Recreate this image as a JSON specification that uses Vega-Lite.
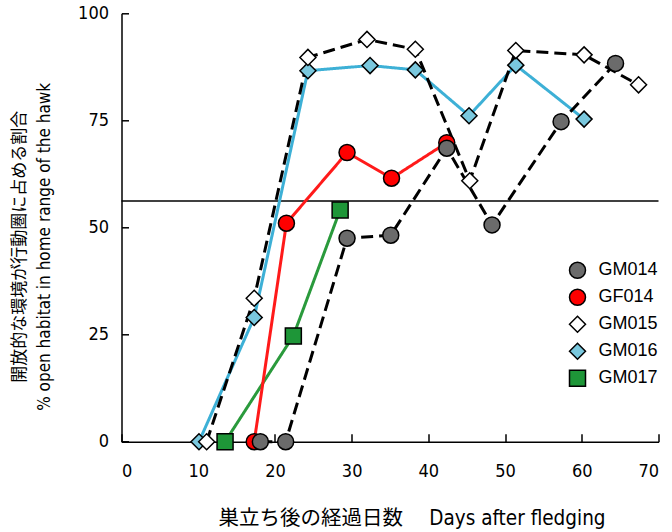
{
  "$schema": "https://vega.github.io/schema/vega-lite/v6.json",
  "autosize": {"type": "none"},
  "padding": {"left": 121.5, "top": 13.3, "right": 13.5, "bottom": 90.3},
  "width": 537,
  "height": 428.4,
  "background": "white",
  "config": {"view": {"stroke": null}, "font": "Liberation Sans"},
  "encoding": {
    "y": {
      "field": "pct",
      "type": "quantitative",
      "scale": {"domain": [0, 100], "nice": false},
      "axis": {
        "title": ["開放的な環境が行動圏に占める割合", "% open habitat in home range of the hawk"],
        "values": [0, 25, 50, 75, 100],
        "grid": false,
        "tickSize": -7,
        "tickColor": "black",
        "tickWidth": 1.5,
        "domainColor": "black",
        "domainWidth": 1.5,
        "labelFont": "DejaVu Sans Condensed",
        "labelFontSize": 18,
        "labelColor": "black",
        "labelPadding": 20,
        "titleFont": "DejaVu Sans Condensed, Noto Sans CJK JP",
        "titleFontSize": 17,
        "titleFontWeight": "normal",
        "titleColor": "black",
        "titleLineHeight": 25,
        "titlePadding": 24,
        "titleY": 233
      }
    }
  },
  "layer": [
    {
      "data": {"values": [{"pct": 56.2}]},
      "mark": {"type": "rule", "color": "black", "strokeWidth": 1.5}
    },
    {
      "data": {
        "values": [
          {"series": "GM017", "day": 13.5, "pct": 0},
          {"series": "GM017", "day": 22.4, "pct": 24.7},
          {"series": "GM017", "day": 28.5, "pct": 54.1},
          {"series": "GF014", "day": 17.3, "pct": 0},
          {"series": "GF014", "day": 21.5, "pct": 51.0},
          {"series": "GF014", "day": 29.4, "pct": 67.5},
          {"series": "GF014", "day": 35.2, "pct": 61.5},
          {"series": "GF014", "day": 42.4, "pct": 69.8},
          {"series": "GM016", "day": 10.1, "pct": 0},
          {"series": "GM016", "day": 17.3, "pct": 29.0},
          {"series": "GM016", "day": 24.3, "pct": 86.6},
          {"series": "GM016", "day": 32.4, "pct": 87.8},
          {"series": "GM016", "day": 38.3, "pct": 86.8},
          {"series": "GM016", "day": 45.3, "pct": 76.1},
          {"series": "GM016", "day": 51.4, "pct": 87.9},
          {"series": "GM016", "day": 60.3, "pct": 75.3},
          {"series": "GM015", "day": 11.1, "pct": 0},
          {"series": "GM015", "day": 17.3, "pct": 33.5},
          {"series": "GM015", "day": 24.3, "pct": 89.7},
          {"series": "GM015", "day": 32.0, "pct": 93.9},
          {"series": "GM015", "day": 38.3, "pct": 91.6},
          {"series": "GM015", "day": 45.4, "pct": 60.9},
          {"series": "GM015", "day": 51.4, "pct": 91.3},
          {"series": "GM015", "day": 60.3, "pct": 90.3},
          {"series": "GM015", "day": 67.4, "pct": 83.3},
          {"series": "GM014", "day": 18.1, "pct": 0},
          {"series": "GM014", "day": 21.4, "pct": 0},
          {"series": "GM014", "day": 29.4, "pct": 47.5},
          {"series": "GM014", "day": 35.1, "pct": 48.2},
          {"series": "GM014", "day": 42.4, "pct": 68.5},
          {"series": "GM014", "day": 48.3, "pct": 50.6},
          {"series": "GM014", "day": 57.3, "pct": 74.7},
          {"series": "GM014", "day": 64.4, "pct": 88.3}
        ]
      },
      "encoding": {
        "x": {
          "field": "day",
          "type": "quantitative",
          "scale": {"domain": [0, 70], "nice": false},
          "axis": {
            "title": "巣立ち後の経過日数　 Days after fledging",
            "values": [0, 10, 20, 30, 40, 50, 60, 70],
            "grid": false,
            "tickSize": -8,
            "tickColor": "black",
            "tickWidth": 1.5,
            "domainColor": "black",
            "domainWidth": 1.5,
            "labelFont": "DejaVu Sans Condensed",
            "labelFontSize": 18,
            "labelColor": "black",
            "labelPadding": 29,
            "titleFont": "DejaVu Sans Condensed, Noto Sans CJK JP",
            "titleFontSize": 20.5,
            "titleFontWeight": "normal",
            "titleColor": "black",
            "titlePadding": 28,
            "titleX": 290
          }
        }
      },
      "layer": [
        {
          "mark": {"type": "line", "strokeWidth": 3},
          "encoding": {
            "stroke": {
              "field": "series",
              "type": "nominal",
              "scale": {
                "domain": ["GM017", "GF014", "GM016", "GM015", "GM014"],
                "range": ["#2a9a3c", "#ff1a1a", "#3db0d6", "#000000", "#000000"]
              },
              "legend": null
            },
            "strokeDash": {
              "field": "series",
              "type": "nominal",
              "scale": {
                "domain": ["GM017", "GF014", "GM016", "GM015", "GM014"],
                "range": [[1, 0], [1, 0], [1, 0], [12, 6], [12, 6]]
              },
              "legend": null
            }
          }
        },
        {
          "mark": {"type": "point", "filled": true, "stroke": "black", "strokeWidth": 1.5, "opacity": 1},
          "encoding": {
            "fill": {
              "field": "series",
              "type": "nominal",
              "scale": {
                "domain": ["GM014", "GF014", "GM015", "GM016", "GM017"],
                "range": ["#6b6b6b", "#ff0000", "#ffffff", "#7ac8de", "#1e9638"]
              },
              "legend": {
                "title": null,
                "orient": "none",
                "legendX": 447,
                "legendY": 248,
                "padding": 0,
                "labelFont": "Liberation Sans",
                "labelFontSize": 18,
                "labelColor": "black",
                "labelOffset": 12,
                "rowPadding": 5,
                "symbolStrokeColor": "black",
                "symbolStrokeWidth": 1.5
              }
            },
            "shape": {
              "field": "series",
              "type": "nominal",
              "scale": {
                "domain": ["GM014", "GF014", "GM015", "GM016", "GM017"],
                "range": ["circle", "circle", "diamond", "diamond", "square"]
              }
            },
            "size": {
              "field": "series",
              "type": "nominal",
              "scale": {
                "domain": ["GM014", "GF014", "GM015", "GM016", "GM017"],
                "range": [256, 256, 340, 340, 196]
              }
            }
          }
        }
      ]
    }
  ]
}
